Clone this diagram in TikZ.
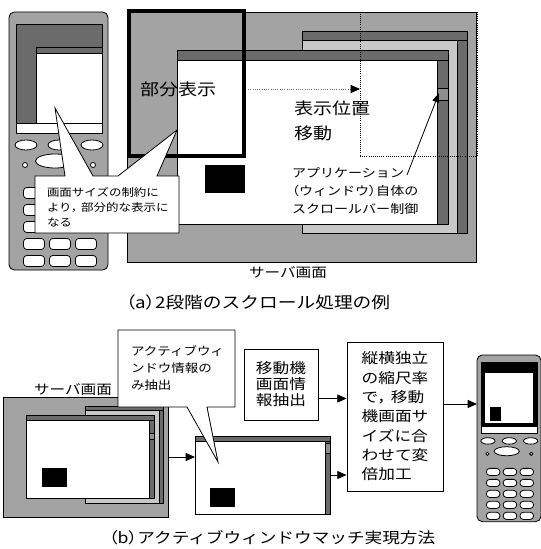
\documentclass[tikz,border=0pt]{standalone}
\usepackage{fontspec}
\setmainfont[FakeStretch=1.17]{Noto Sans CJK JP}
\newfontfamily\propfont[FakeStretch=1.17,RawFeature=+palt]{Noto Sans CJK JP}
\usetikzlibrary{arrows.meta,fit}

\definecolor{bodygray}{HTML}{A3A3A3}
\definecolor{bargray}{HTML}{6B6B6B}
\definecolor{panegray}{HTML}{C8C8C8}
\definecolor{thumbgray}{HTML}{8E8E8E}

\newcommand\jsz[2]{\fontsize{#1}{#2}\selectfont}
% proportional (narrow) punctuation
\newcommand\pp[1]{{\propfont #1}}
\newcommand\pcomma{{\propfont ，}\kern0.3em}

\tikzset{
  outline/.style={draw=black, line width=0.6pt},
  arr/.style={draw=black, line width=0.7pt, -{Triangle[length=7pt,width=6pt]}},
  txt/.style={inner sep=0pt, outer sep=0pt, align=left, anchor=west},
  frame/.style={inner sep=0pt, outer sep=0pt}
}

% mobile handset: body, soft keys and keypad (screen drawn separately)
\newcommand\handsetbody{%
  \draw[outline, fill=bodygray, rounded corners=4pt] (0,0) rectangle (99,258);
  \draw[outline, fill=white] (7,111) rectangle (93,121);
  \foreach \cx in {17,50,83}
    \draw[outline, fill=white] (\cx,133) ellipse [x radius=11, y radius=5];
  \draw[outline, fill=white] (46,149) ellipse [x radius=19.5, y radius=7];
  \foreach \cx in {16,84}
    \draw[outline, fill=white] (\cx,153) ellipse [x radius=2.5, y radius=2.5];
  \foreach \cx in {25,51,77}
    \foreach \cy in {181,198,215,232,249}
      \draw[outline, fill=white, rounded corners=2.5pt]
        (\cx-10.5,\cy-5.5) rectangle (\cx+10.5,\cy+5.5);
}

% server desktop with two overlapping application windows
\newcommand\desktopwins{%
  \draw[outline, fill=bodygray] (0,0) rectangle (349,250);
  \draw[outline, fill=panegray] (175,28) rectangle (340,221);
  \draw[outline, fill=bargray] (175,19) rectangle (340,28);
  \draw[outline, fill=bargray] (330,28) rectangle (340,221);
  \draw[outline, fill=white] (50,48) rectangle (321,212);
  \draw[outline, fill=bargray] (50,38) rectangle (321,48);
  \draw[outline, fill=bargray] (310,48) rectangle (321,212);
  \draw[outline, fill=thumbgray] (310,76) rectangle (321,88);
}

\begin{document}
\begin{tikzpicture}[x=0.75pt, y=-0.75pt]
\useasboundingbox (0,0) rectangle (541,549);

%% ---------- (a) two-stage scrolling ----------
% handset showing part of the window
\begin{scope}[shift={(9,12)}]
  \handsetbody
  \draw[outline, fill=bargray] (7,12) rectangle (93,111);
  \draw[outline, fill=white] (27,41) rectangle (93,111);
  \draw[outline, fill=bargray] (27,35) rectangle (93,41);
\end{scope}

% server screen
\begin{scope}[shift={(127,12)}]
  \desktopwins
\end{scope}
\fill[black] (205,165) rectangle (245,193);
\node[fit={(127,12)(476,262)}, frame] (srvA) {};

% visible part on the handset, and the moved position
\node[fit={(129,11.5)(244,156)}, frame, draw=black, line width=3pt] (view1) {};
\node[fit={(360,12)(477,156)}, frame, draw=black, line width=0.6pt, densely dotted] (view2) {};

\node[txt, font=\jsz{12.2}{15}] (bubun) at (140,89) {部分表示};
\draw[draw=black!55, line width=0.7pt, densely dotted, shorten <=3pt,
      -{Triangle[black,length=7pt,width=6pt]}]
  (bubun.east -| view1.east) -- (bubun.east -| view2.west);

\node[txt, font=\jsz{12.2}{18.75}] (move) at (294,120.5) {表示位置\\移動};

\node[txt, font=\jsz{9}{13.5}] (appTxt) at (292,191)
  {アプリケーション\\\pp{（}ウィンドウ\pp{）}自体の\\スクロールバー制御};
\coordinate (thumb) at (439,93);
\coordinate (appTail) at (407,175);
\draw[black, line width=0.6pt, -{Triangle[length=7pt,width=5pt]}] (appTail) -- (thumb);

\node[font=\jsz{10}{12}, inner sep=0pt] (srvAlbl) at (288,273) {サーバ画面};

% balloon: partial display because of the screen size
\draw[outline, fill=white, line join=miter]
  (35,176) -- (65,176) -- (55,108) -- (93,176) -- (118,176) -- (177,130)
  -- (157,176) -- (179,176) -- (179,233) -- (35,233) -- cycle;
\node[txt, font=\jsz{8}{11.25}] (noteA) at (47,207)
  {画面サイズの制約に\\より\pcomma 部分的な表示に\\なる};

\node[font=\jsz{12}{14}, inner sep=0pt] (capA) at (258,302)
  {\pp{（}a\pp{）}2段階のスクロール処理の例};

%% ---------- (b) active window matching ----------
\begin{scope}[shift={(3,397)}, x=0.35475pt, y=-0.36pt]
  \desktopwins
\end{scope}
\fill[black] (42,468) rectangle (67,487);
\node[fit={(3,397)(168,517)}, frame] (srvB) {};
\node[font=\jsz{10}{12}, inner sep=0pt] (srvBlbl) at (73,390) {サーバ画面};

% extracted active window
\draw[outline, fill=white] (195,441) rectangle (330,514);
\draw[outline, fill=bargray] (195,436) rectangle (330,441);
\draw[outline, fill=bargray] (325,441) rectangle (330,514);
\draw[outline, fill=thumbgray] (325,443) rectangle (330,453);
\fill[black] (210,488) rectangle (235,507);
\node[fit={(195,436)(330,514)}, frame] (winB) {};

% balloon: only the active window is taken
\draw[outline, fill=white, line join=miter]
  (118,330) -- (235,330) -- (235,407) -- (207,407) -- (218,462)
  -- (187,407) -- (118,407) -- cycle;
\node[txt, font=\jsz{8.65}{12.4}] (noteB) at (131,368)
  {アクティブウィ\\ンドウ情報の\\み抽出};

% processing boxes
\node[outline, inner sep=0pt, minimum width=55.5pt, minimum height=53.25pt,
      align=center, font=\jsz{10.7}{12}] (info) at (281,384.5)
  {移動機\\画面情\\報抽出};
\node[outline, inner sep=0pt, minimum width=72pt, minimum height=111.75pt,
      align=left, font=\jsz{10.7}{14.5}] (conv) at (395,416.5)
  {縦横独立\\の縮尺率\\で\pcomma 移動\\機画面サ\\イズに合\\わせて変\\倍加工};

% handset with the rescaled window
\begin{scope}[shift={(477,355)}, x=0.4845pt, y=-0.4845pt]
  \handsetbody
  \draw[outline, fill=black] (7,12) rectangle (93,111);
  \fill[white] (12,28) rectangle (87,105);
  \fill[black] (20,80) rectangle (37,102);
\end{scope}
\node[fit={(477,355)(541,522)}, frame] (phoneB) {};

% data flow
\coordinate (infoOut) at ([yshift=-10.5pt]info.east);
\coordinate (convOut) at ([yshift=9.4pt]conv.east);
\draw[arr] (srvB.east) -- (srvB.east -| winB.west);
\draw[arr] (winB.east) -- (winB.east -| conv.west);
\draw[arr] (infoOut) -- (infoOut -| conv.west);
\draw[arr] (convOut) -- (convOut -| phoneB.west);

\node[font=\jsz{11.3}{13}, inner sep=0pt] (capB) at (272,538)
  {\pp{（}b\pp{）}アクティブウィンドウマッチ実現方法};
\end{tikzpicture}
\end{document}
